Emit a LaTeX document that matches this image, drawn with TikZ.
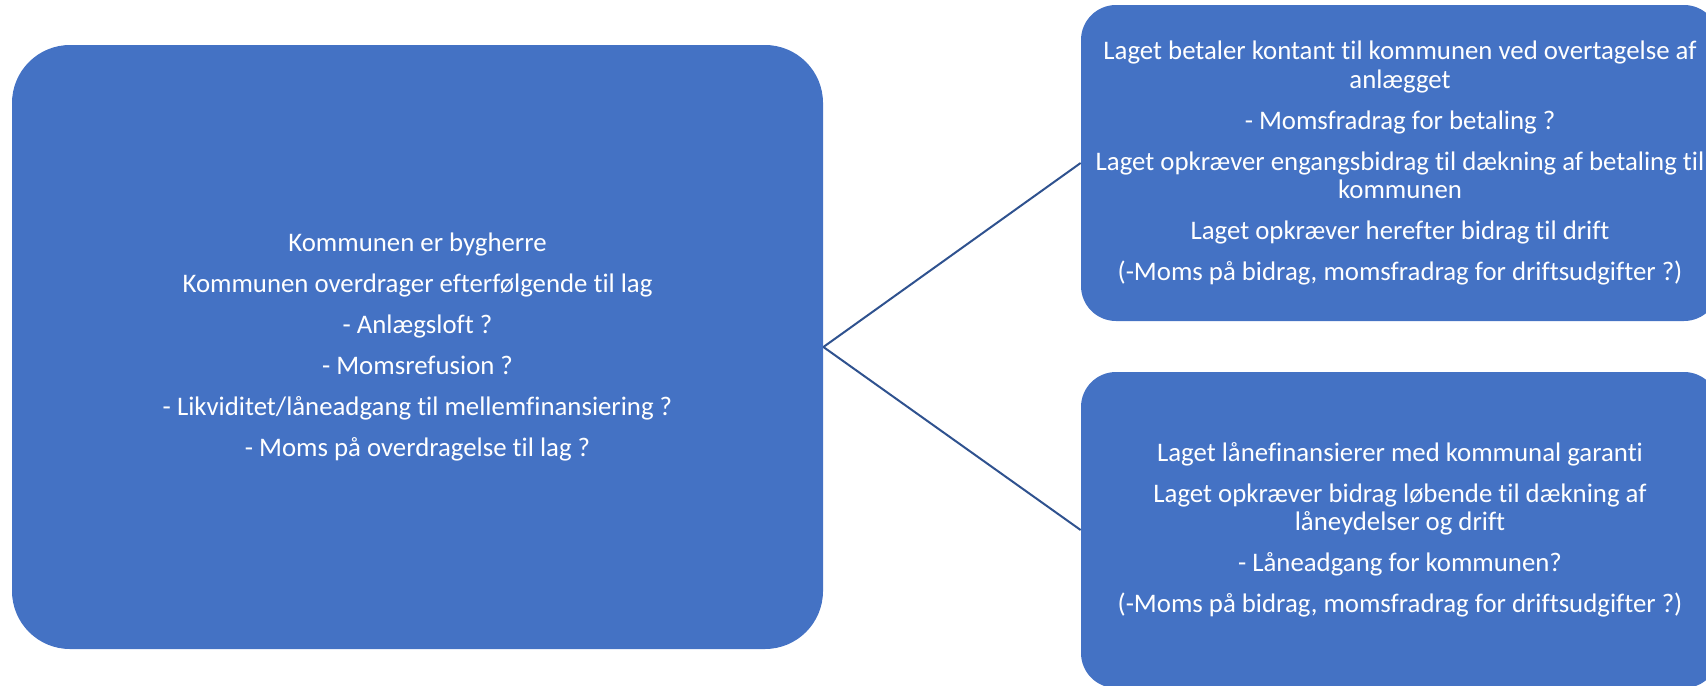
\documentclass[tikz,border=0pt]{standalone}
\usepackage{fontspec}
\setmainfont{Carlito}[Ligatures=NoCommon]
\definecolor{boxblue}{RGB}{68,114,196}
\definecolor{lineblue}{RGB}{47,82,143}
\begin{document}
\begin{tikzpicture}[x=0.5pt,y=-0.5pt]
        \tikzstyle{box}=[fill=boxblue,text=white,align=center,inner sep=0pt,rounded corners=17.5pt,minimum width=319pt,minimum height=158pt,font=\fontsize{13.4pt}{14.25pt}\selectfont]
        \tikzstyle{link}=[draw=lineblue,line width=1pt]
        \useasboundingbox (0,0) rectangle (1706,685);
        \begin{scope}
                \node [box,rounded corners=29pt,minimum width=405.5pt,minimum height=302pt] (kom) at (417.5,347) {Kommunen er bygherre\\[6.25pt]
                        Kommunen overdrager efterfølgende til lag\\[6.25pt]
                        - Anlægsloft ?\\[6.25pt]
                        - Momsrefusion ?\\[6.25pt]
                        - Likviditet/låneadgang til mellemfinansiering ?\\[6.25pt]
                        - Moms på overdragelse til lag ?};
                \node [box] (kontant) at (1400,163) {Laget betaler kontant til kommunen ved overtagelse af\\
                        anlægget\\[6.25pt]
                        - Momsfradrag for betaling ?\\[6.25pt]
                        Laget opkræver engangsbidrag til dækning af betaling til\\
                        kommunen\\[6.25pt]
                        Laget opkræver herefter bidrag til drift\\[6.25pt]
                        (-Moms på bidrag, momsfradrag for driftsudgifter ?)};
                \node [box] (laan) at (1400,530) {Laget lånefinansierer med kommunal garanti\\[6.25pt]
                        Laget opkræver bidrag løbende til dækning af\\
                        låneydelser og drift\\[6.25pt]
                        - Låneadgang for kommunen?\\[6.25pt]
                        (-Moms på bidrag, momsfradrag for driftsudgifter ?)};
                \path[link] (kom.east) -- (kontant.west);
                \path[link] (kom.east) -- (laan.west);
        \end{scope}
\end{tikzpicture}
\end{document}
